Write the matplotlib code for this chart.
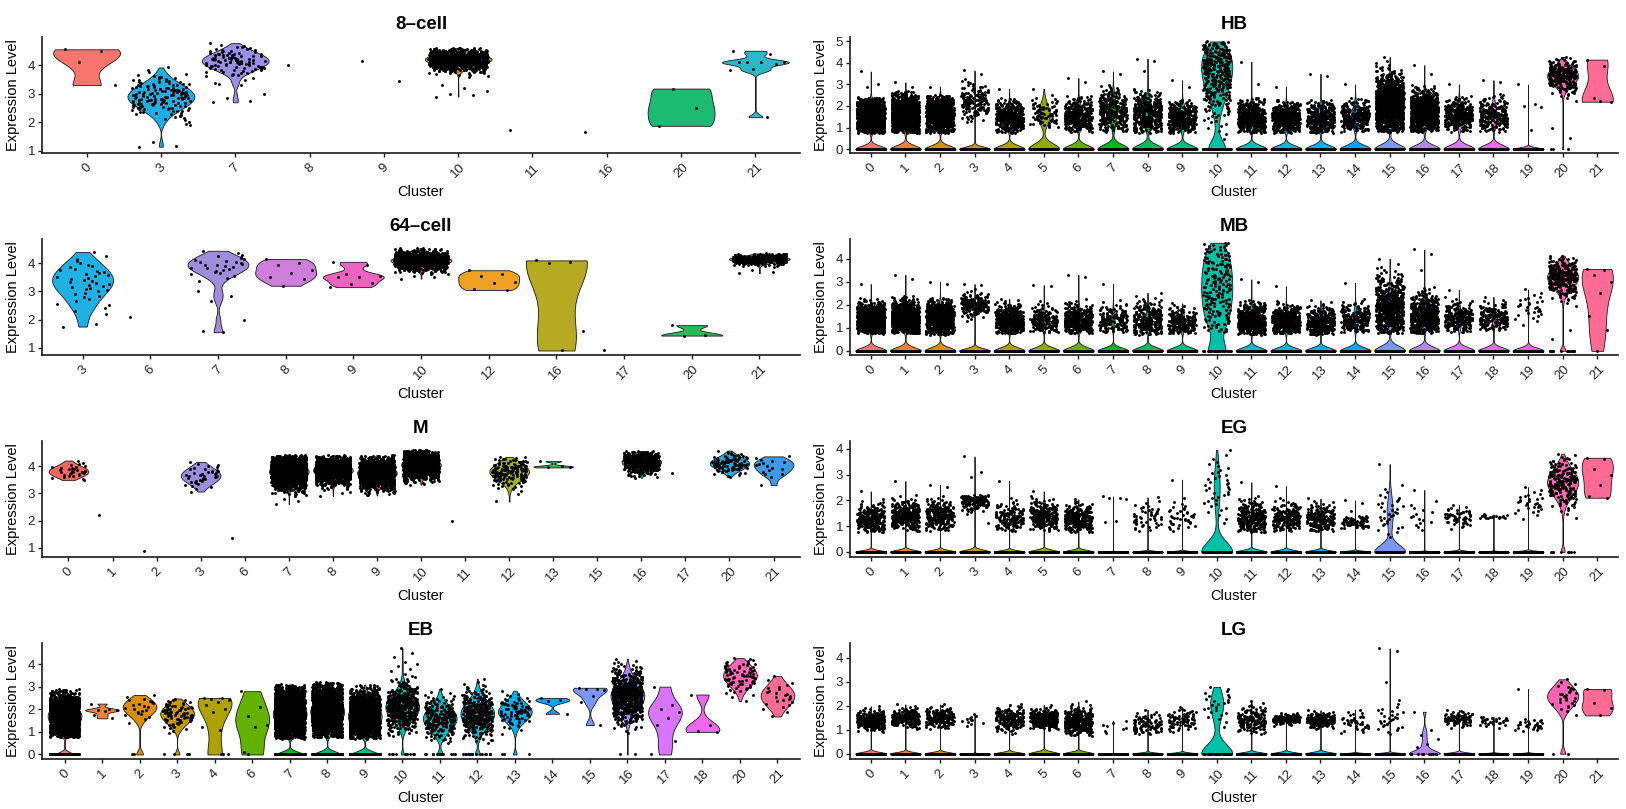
import numpy as np
import matplotlib
matplotlib.use("Agg")
import matplotlib.pyplot as plt
from matplotlib.colors import to_hex

plt.rcParams['font.family'] = ['Liberation Sans', 'DejaVu Sans']

# ---------------------------------------------------------------------------
# per-cluster summaries: zero cells, non-zero cells (count/center/spread/range)
# and a few single cells listed by value
# ---------------------------------------------------------------------------

# 8-cell
cell8_clusters = ['0', '3', '7', '8', '9', '10', '11', '16', '20', '21']
cell8_zeros = [0] * 10
cell8_count = [0, 150, 100, 0, 0, 900, 0, 0, 0, 0]
cell8_center = [0, 2.9, 4.15, 0, 0, 4.2, 0, 0, 0, 0]
cell8_spread = [0, 0.42, 0.3, 0, 0, 0.2, 0, 0, 0, 0]
cell8_low = [0, 1.9, 3.0, 0, 0, 3.5, 0, 0, 0, 0]
cell8_high = [0, 4.0, 4.8, 0, 0, 4.6, 0, 0, 0, 0]
cell8_extra = {'0': [4.55, 4.48, 4.1, 3.3], '3': [1.15, 1.18, 1.3, 1.9],
               '7': [2.7, 2.75, 2.85, 3.0, 3.3, 3.35], '8': [4.0], '9': [4.15, 3.45],
               '10': [2.9, 2.95, 3.0, 3.1, 3.2, 3.3], '11': [1.72], '16': [1.65],
               '20': [1.88, 2.5, 3.18],
               '21': [4.5, 4.38, 4.12, 4.1, 4.1, 4.12, 4.05, 3.85, 3.83, 2.18]}
cell8_colors = ['#F8766D', '#1FAEE6', '#9A8FE6', None, None, '#C9962A', None, None,
                '#1DBA72', '#2BB9C9']

# 64-cell
cell64_clusters = ['3', '6', '7', '8', '9', '10', '12', '16', '17', '20', '21']
cell64_zeros = [0] * 11
cell64_count = [40, 0, 28, 0, 0, 900, 0, 0, 0, 0, 350]
cell64_center = [3.4, 0, 3.95, 0, 0, 4.1, 0, 0, 0, 0, 4.15]
cell64_spread = [0.55, 0, 0.3, 0, 0, 0.18, 0, 0, 0, 0, 0.1]
cell64_low = [1.75, 0, 3.2, 0, 0, 3.6, 0, 0, 0, 0, 3.8]
cell64_high = [4.5, 0, 4.5, 0, 0, 4.55, 0, 0, 0, 0, 4.35]
cell64_extra = {'3': [1.75, 1.85, 2.3, 2.5], '6': [2.1],
                '7': [3.0, 2.85, 2.65, 2.0, 1.55, 1.6],
                '8': [4.15, 4.0, 3.95, 3.75, 3.65, 3.5, 3.45, 3.2],
                '9': [4.05, 3.95, 3.6, 3.55, 3.5, 3.5, 3.3, 3.25, 3.15],
                '10': [3.45, 3.5, 3.55], '12': [3.75, 3.6, 3.55, 3.35, 3.3, 3.1, 3.05],
                '16': [4.1, 4.05, 4.0, 1.6, 0.9], '17': [0.92], '20': [1.8, 1.45, 1.43],
                '21': [3.65, 3.7, 3.75]}
cell64_colors = ['#1FB0E6', None, '#A08CDC', '#CC7ED8', '#EE63C0', '#E0706A', '#F0A022',
                 '#B5AA22', None, '#2DB85A', '#22B5BC']

# M
m_clusters = ['0', '1', '2', '3', '6', '7', '8', '9', '10', '11', '12', '13', '15', '16',
              '17', '20', '21']
m_zeros = [0] * 17
m_count = [30, 0, 0, 40, 0, 2000, 1200, 1500, 1500, 0, 150, 0, 0, 500, 0, 100, 15]
m_center = [3.8, 0, 0, 3.65, 0, 3.8, 3.85, 3.75, 4.05, 0, 3.8, 0, 0, 4.15, 0, 4.1, 4.05]
m_spread = [0.2, 0, 0, 0.28, 0, 0.3, 0.25, 0.28, 0.25, 0, 0.3, 0, 0, 0.22, 0, 0.22, 0.25]
m_low = [3.45, 0, 0, 2.95, 0, 2.9, 3.0, 2.9, 3.3, 0, 2.6, 0, 0, 3.55, 0, 3.55, 3.2]
m_high = [4.3, 0, 0, 4.2, 0, 4.4, 4.4, 4.4, 4.6, 0, 4.35, 0, 0, 4.55, 0, 4.6, 4.4]
m_extra = {'1': [2.22], '2': [0.87], '6': [1.35], '7': [2.6, 2.7, 2.8], '8': [2.9, 3.0],
           '11': [1.98], '12': [2.7], '13': [4.18, 4.0, 3.98, 3.95], '17': [3.75],
           '21': [3.3, 3.7]}
m_colors = ['#F3665E', None, None, '#9A8EE0', None, '#E07070', '#E0609A', '#D45E88',
            '#C87060', None, '#A4B418', '#30BB48', None, '#20B090', None, '#22A9E0',
            '#3C9AE6']

# EB
eb_clusters = ['0', '1', '2', '3', '4', '6', '7', '8', '9', '10', '11', '12', '13', '14',
               '15', '16', '17', '18', '20', '21']
eb_zeros = [200, 0, 2, 4, 3, 1, 450, 400, 350, 10, 12, 15, 3, 0, 0, 2, 1, 0, 0, 0]
eb_count = [1800, 0, 22, 80, 0, 0, 2600, 2200, 1700, 450, 220, 350, 80, 0, 0, 600, 0, 0,
            80, 25]
eb_center = [1.7, 0, 2.1, 1.8, 0, 0, 1.8, 1.9, 1.7, 2.1, 1.6, 1.8, 1.9, 0, 0, 2.6, 0, 0,
             3.5, 2.6]
eb_spread = [0.5, 0, 0.35, 0.4, 0, 0, 0.6, 0.6, 0.55, 0.55, 0.5, 0.55, 0.4, 0, 0, 0.6,
             0, 0, 0.45, 0.45]
eb_low = [0.75, 0, 1.0, 0.9, 0, 0, 0.7, 0.75, 0.7, 0.8, 0.5, 0.5, 0.7, 0, 0, 0.9, 0, 0,
          1.45, 1.2]
eb_high = [2.9, 0, 2.7, 2.5, 0, 0, 3.1, 3.2, 3.1, 3.6, 3.0, 3.5, 2.95, 0, 0, 4.3, 0, 0,
           4.3, 3.7]
eb_extra = {'1': [2.25, 2.0, 1.98, 1.95, 1.92, 1.75, 1.6],
            '4': [2.5, 2.5, 2.45, 2.4, 2.3, 2.2, 2.0, 1.9, 1.2, 1.1],
            '6': [2.8, 2.1, 1.7, 1.3, 1.2, 0.1],
            '10': [3.7, 3.8, 3.9, 4.0, 4.1, 4.3, 4.5, 4.7],
            '14': [2.5, 2.4, 2.35, 1.8], '15': [2.95, 2.9, 2.9, 2.85, 2.6, 2.3, 1.3],
            '17': [3.0, 2.2, 2.0, 1.9, 1.6, 1.3, 0.6], '18': [2.65, 1.3, 1.05, 1.0]}

# HB
hb_clusters = [str(i) for i in range(22)]
hb_zeros = [800, 800, 800, 2000, 600, 120, 500, 450, 450, 450, 60, 600, 600, 500, 450,
            900, 700, 450, 450, 300, 3, 0]
hb_count = [1300, 1000, 1000, 150, 380, 80, 330, 300, 380, 330, 300, 400, 400, 330, 280,
            1200, 800, 300, 220, 0, 250, 0]
hb_center = [1.5, 1.6, 1.6, 2.2, 1.45, 1.6, 1.5, 1.7, 1.6, 1.45, 3.8, 1.45, 1.4, 1.4, 1.5,
             2.0, 1.7, 1.55, 1.55, 0, 3.4, 0]
hb_spread = [0.45, 0.5, 0.45, 0.45, 0.4, 0.4, 0.45, 0.55, 0.55, 0.4, 1.25, 0.45, 0.4,
             0.45, 0.4, 0.7, 0.5, 0.4, 0.45, 0, 0.4, 0]
hb_low = [0.75, 0.75, 0.75, 1.2, 0.75, 1.0, 0.8, 0.8, 0.75, 0.75, 0.3, 0.75, 0.75, 0.75,
          0.8, 0.8, 0.8, 0.8, 0.8, 0, 1.8, 0]
hb_high = [2.4, 2.7, 2.5, 3.3, 2.4, 2.6, 2.5, 3.0, 2.8, 2.3, 5.0, 2.4, 2.3, 2.3, 2.4, 4.5,
           3.0, 2.5, 2.6, 0, 4.3, 0]
hb_extra = {'0': [3.6, 3.0, 2.9], '1': [3.1, 2.9], '2': [2.9], '3': [3.65, 3.5], '4': [2.8],
            '5': [2.8], '6': [3.3, 3.1], '7': [3.6, 3.5], '8': [4.2, 4.1, 3.6],
            '9': [3.2, 2.9], '11': [4.05, 3.0], '12': [2.9], '13': [3.5, 3.4], '14': [3.0],
            '16': [3.9, 3.5], '17': [3.0], '18': [3.2, 3.1],
            '19': [3.0, 2.1, 2.0, 1.95, 0.9], '20': [1.0, 0.5],
            '21': [4.15, 3.85, 2.35, 2.2, 2.25]}

# MB
mb_clusters = [str(i) for i in range(22)]
mb_zeros = [900, 900, 900, 2000, 800, 500, 600, 600, 600, 500, 30, 800, 800, 700, 600,
            900, 800, 600, 600, 400, 15, 1]
mb_count = [900, 750, 750, 180, 450, 170, 350, 160, 260, 200, 180, 450, 400, 330, 230,
            600, 450, 230, 160, 30, 280, 0]
mb_center = [1.35, 1.4, 1.4, 2.0, 1.3, 1.25, 1.3, 1.3, 1.25, 1.2, 2.8, 1.3, 1.25, 1.2,
             1.35, 1.8, 1.5, 1.4, 1.4, 1.9, 3.2, 0]
mb_spread = [0.35, 0.4, 0.4, 0.25, 0.35, 0.35, 0.35, 0.35, 0.45, 0.35, 2.0, 0.4, 0.35,
             0.35, 0.35, 0.7, 0.5, 0.35, 0.35, 0.4, 0.45, 0]
mb_low = [0.75, 0.75, 0.7, 1.0, 0.75, 0.8, 0.75, 0.8, 0.7, 0.75, 0.8, 0.7, 0.75, 0.7, 0.8,
          0.75, 0.75, 0.8, 0.9, 1.0, 1.8, 0]
mb_high = [2.3, 2.4, 2.3, 2.8, 2.3, 2.3, 2.3, 2.3, 2.7, 2.1, 4.7, 2.2, 2.2, 2.3, 2.3, 4.6,
           2.8, 2.4, 2.5, 2.8, 4.15, 0]
mb_extra = {'0': [2.9], '1': [3.3, 3.1], '2': [3.0, 2.9], '3': [2.9, 2.85], '5': [2.85, 2.8],
            '6': [3.3, 3.2], '7': [2.9], '11': [3.1, 3.0], '12': [2.8], '14': [2.95],
            '16': [4.4, 4.2, 3.5], '17': [2.65], '20': [0.5, 0.9],
            '21': [3.55, 3.5, 3.3, 3.0, 2.5, 1.5, 0.9]}

# EG
eg_clusters = [str(i) for i in range(22)]
eg_zeros = [3000, 3000, 3000, 2500, 2500, 2500, 2500, 2500, 2500, 2500, 100, 2500, 2500,
            2500, 2500, 80, 2500, 2500, 2500, 2500, 8, 0]
eg_count = [250, 300, 250, 130, 150, 250, 250, 0, 50, 40, 40, 250, 200, 200, 80, 35, 15,
            60, 20, 30, 200, 0]
eg_center = [1.25, 1.4, 1.4, 2.0, 1.3, 1.4, 1.25, 0, 1.3, 1.3, 2.5, 1.3, 1.3, 1.25, 1.15,
             1.5, 1.3, 1.35, 1.35, 1.9, 2.7, 0]
eg_spread = [0.3, 0.3, 0.3, 0.2, 0.3, 0.3, 0.3, 0, 0.35, 0.35, 0.8, 0.35, 0.3, 0.3, 0.15,
             0.6, 0.4, 0.2, 0.05, 0.3, 0.5, 0]
eg_low = [0.75, 0.8, 0.8, 1.3, 0.8, 0.8, 0.75, 0, 0.8, 0.8, 1.0, 0.75, 0.8, 0.8, 0.9, 0.5,
          0.8, 0.8, 1.3, 1.1, 0.9, 0]
eg_high = [2.1, 2.3, 2.2, 2.2, 2.3, 2.2, 2.1, 0, 2.5, 2.4, 4.1, 2.2, 2.2, 2.2, 1.4, 2.7,
           2.2, 2.0, 1.5, 2.7, 3.85, 0]
eg_extra = {'0': [2.35], '1': [2.75], '2': [2.6, 2.5], '3': [3.7, 3.1, 2.9, 1.1],
            '4': [2.75], '5': [2.35], '7': [2.15, 2.1, 2.1, 2.05, 1.2, 1.15], '9': [2.8],
            '11': [2.7], '12': [2.55], '14': [2.0, 1.9, 1.6], '15': [3.4], '16': [2.4],
            '21': [3.65, 3.6, 3.2, 3.0, 2.6, 2.15, 2.1]}

# LG
lg_clusters = [str(i) for i in range(22)]
lg_zeros = [3000, 3000, 3000, 2500, 3000, 2500, 2500, 2500, 2500, 2500, 40, 2500, 2500,
            2500, 2500, 2500, 12, 2500, 2500, 2500, 2, 0]
lg_count = [300, 200, 200, 12, 200, 300, 300, 8, 100, 80, 25, 150, 150, 200, 40, 30, 0,
            100, 30, 30, 30, 0]
lg_center = [1.4, 1.5, 1.5, 1.4, 1.45, 1.45, 1.3, 1.1, 1.2, 1.4, 2.1, 1.4, 1.45, 1.4, 1.3,
             1.4, 0, 1.45, 1.4, 1.2, 2.4, 0]
lg_spread = [0.2, 0.2, 0.2, 0.15, 0.25, 0.2, 0.3, 0.2, 0.25, 0.25, 0.5, 0.3, 0.1, 0.15,
             0.25, 0.4, 0, 0.15, 0.15, 0.15, 0.4, 0]
lg_low = [0.9, 1.0, 1.0, 1.1, 0.8, 1.0, 0.75, 0.8, 0.8, 0.9, 0.9, 0.8, 1.0, 1.0, 0.8, 0.8,
          0, 1.0, 0.8, 0.9, 1.5, 0]
lg_high = [2.3, 2.5, 2.4, 1.8, 2.1, 2.55, 2.8, 1.5, 2.1, 2.0, 2.85, 2.5, 2.1, 2.1, 2.0,
           2.5, 0, 2.1, 1.55, 1.5, 3.2, 0]
lg_extra = {'15': [4.4, 4.3, 3.0], '16': [1.75, 1.0, 0.8, 0.6, 0.4, 0.3], '19': [2.7],
            '21': [2.7, 2.65, 2.1, 1.9, 1.6]}


def hue_colors(n, lum=65.0, chroma=100.0):
    # ggplot-style hue palette (polar LUV -> sRGB)
    h = np.deg2rad(np.linspace(15, 375, n + 1)[:-1])
    u, v = chroma * np.cos(h), chroma * np.sin(h)
    xn, yn, zn = 95.047, 100.0, 108.883
    un = 4 * xn / (xn + 15 * yn + 3 * zn)
    vn = 9 * yn / (xn + 15 * yn + 3 * zn)
    y = yn * ((lum + 16) / 116) ** 3
    up, vp = u / (13 * lum) + un, v / (13 * lum) + vn
    x = y * 9 * up / (4 * vp)
    z = y * (12 - 3 * up - 20 * vp) / (4 * vp)
    xyz = np.stack([x, np.full_like(x, y), z]) / 100
    m = np.array([[3.2406, -1.5372, -0.4986],
                  [-0.9689, 1.8758, 0.0415],
                  [0.0557, -0.2040, 1.0570]])
    rgb = m @ xyz
    rgb = np.where(rgb <= 0.0031308, 12.92 * rgb,
                   1.055 * np.clip(rgb, 0, None) ** (1 / 2.4) - 0.055)
    return [to_hex(c) for c in np.clip(rgb, 0, 1).T]


hue22 = hue_colors(22)

GOLD = 0.6180339887498949


def spread_hash(i, seed):
    # horizontal jitter offsets in [0, 1) from a simple sine hash
    return (np.sin(i * 12.9898 + seed * 78.233) * 43758.5453) % 1


def cluster_points(zeros, count, center, spread, low, high, extra, seed):
    ys, js = [], []
    if zeros:
        i = np.arange(zeros)
        ys.append(np.zeros(zeros))
        js.append(spread_hash(i, seed + 0.37))
    if count:
        grid = np.linspace(low, high, 400)
        cdf = np.cumsum(np.exp(-0.5 * ((grid - center) / spread) ** 2))
        cdf = (cdf - cdf[0]) / (cdf[-1] - cdf[0])
        i = np.arange(count)
        ys.append(np.interp((i + 0.5) / count, cdf, grid))
        js.append(spread_hash(i, seed))
    if extra:
        i = np.arange(len(extra))
        ys.append(np.asarray(extra, float))
        js.append((0.13 + i * GOLD) % 1)
    if not ys:
        return np.array([]), np.array([])
    return np.concatenate(ys), np.concatenate(js)


def nrd0(v):
    hi = np.std(v, ddof=1)
    q75, q25 = np.percentile(v, [75, 25])
    lo = min(hi, (q75 - q25) / 1.34)
    if lo == 0:
        lo = hi if hi > 0 else 1.0
    return 0.9 * lo * len(v) ** -0.2


def draw_violin(ax, pos, v, color):
    if len(v) < 2 or np.ptp(v) == 0 or color is None:
        return
    bw = nrd0(v)
    grid = np.linspace(v.min(), v.max(), 512)
    dens = np.zeros_like(grid)
    for chunk in np.array_split(v, max(1, len(v) // 1000)):
        dens += np.exp(-0.5 * ((grid[:, None] - chunk[None, :]) / bw) ** 2).sum(1)
    half = 0.45 * dens / dens.max()
    ax.fill_betweenx(grid, pos - half, pos + half, facecolor=color,
                     edgecolor='#1a1a1a', linewidth=0.6, zorder=2)


def draw_panel(rect, title, clusters, zeros, count, center, spread, low, high, extra,
               colors, yticks, ylim):
    ax = fig.add_axes(rect)
    for k, c in enumerate(clusters):
        v, j = cluster_points(zeros[k], count[k], center[k], spread[k], low[k], high[k],
                              extra.get(c, []), seed=k + 1.7)
        draw_violin(ax, k, v, colors[k])
        if len(v):
            ax.plot(k + (j - 0.5) * 0.8, v, 'o', ms=2.1, mew=0, color='black', zorder=3)
    ax.set_xlim(-0.6, len(clusters) - 0.4)
    ax.set_ylim(*ylim)
    ax.set_xticks(range(len(clusters)))
    ax.set_xticklabels(clusters, rotation=45, ha='center', va='top')
    ax.set_yticks(yticks)
    ax.spines[['top', 'right']].set_visible(False)
    for s in ('left', 'bottom'):
        ax.spines[s].set_linewidth(1.2)
        ax.spines[s].set_color('#1a1a1a')
    ax.tick_params(length=3, width=1.0, color='#1a1a1a', labelsize=9.5,
                   labelcolor='#222222', pad=2)
    ax.tick_params(axis='x', pad=3)
    ax.set_title(title, fontsize=13.5, fontweight='bold', pad=6)
    w_px = rect[2] * 1626
    h_px = rect[3] * 809
    ax.text(-29 / w_px, 0.5, 'Expression Level', rotation=90, ha='center', va='center',
            fontsize=10.5, transform=ax.transAxes)
    ax.text(0.5, -39 / h_px, 'Cluster', ha='center', va='center', fontsize=10.5,
            transform=ax.transAxes)
    return ax


fig = plt.figure(figsize=(16.26, 8.09), dpi=100)

W, H = 1626.0, 809.0
left_col = (42, 758)
right_col = (850, 768)
row_top = [37, 239, 441, 643]
ph = 116


def rect(col, row):
    x0, w = col
    return [x0 / W, 1 - (row_top[row] + ph) / H, w / W, ph / H]


draw_panel(rect(left_col, 0), '8\u2013cell', cell8_clusters, cell8_zeros, cell8_count,
           cell8_center, cell8_spread, cell8_low, cell8_high, cell8_extra, cell8_colors,
           [1, 2, 3, 4], (0.93, 4.98))
draw_panel(rect(left_col, 1), '64\u2013cell', cell64_clusters, cell64_zeros, cell64_count,
           cell64_center, cell64_spread, cell64_low, cell64_high, cell64_extra,
           cell64_colors, [1, 2, 3, 4], (0.74, 4.86))
draw_panel(rect(left_col, 2), 'M', m_clusters, m_zeros, m_count, m_center, m_spread,
           m_low, m_high, m_extra, m_colors, [1, 2, 3, 4], (0.66, 4.92))
draw_panel(rect(left_col, 3), 'EB', eb_clusters, eb_zeros, eb_count, eb_center, eb_spread,
           eb_low, eb_high, eb_extra, [hue22[int(c)] for c in eb_clusters],
           [0, 1, 2, 3, 4], (-0.2, 4.93))
draw_panel(rect(right_col, 0), 'HB', hb_clusters, hb_zeros, hb_count, hb_center, hb_spread,
           hb_low, hb_high, hb_extra, [hue22[int(c)] for c in hb_clusters],
           [0, 1, 2, 3, 4, 5], (-0.18, 5.2))
draw_panel(rect(right_col, 1), 'MB', mb_clusters, mb_zeros, mb_count, mb_center, mb_spread,
           mb_low, mb_high, mb_extra, [hue22[int(c)] for c in mb_clusters],
           [0, 1, 2, 3, 4], (-0.18, 4.85))
draw_panel(rect(right_col, 2), 'EG', eg_clusters, eg_zeros, eg_count, eg_center, eg_spread,
           eg_low, eg_high, eg_extra, [hue22[int(c)] for c in eg_clusters],
           [0, 1, 2, 3, 4], (-0.2, 4.3))
draw_panel(rect(right_col, 3), 'LG', lg_clusters, lg_zeros, lg_count, lg_center, lg_spread,
           lg_low, lg_high, lg_extra, [hue22[int(c)] for c in lg_clusters],
           [0, 1, 2, 3, 4], (-0.22, 4.62))

fig.savefig('out.png', dpi=100, facecolor='white')
